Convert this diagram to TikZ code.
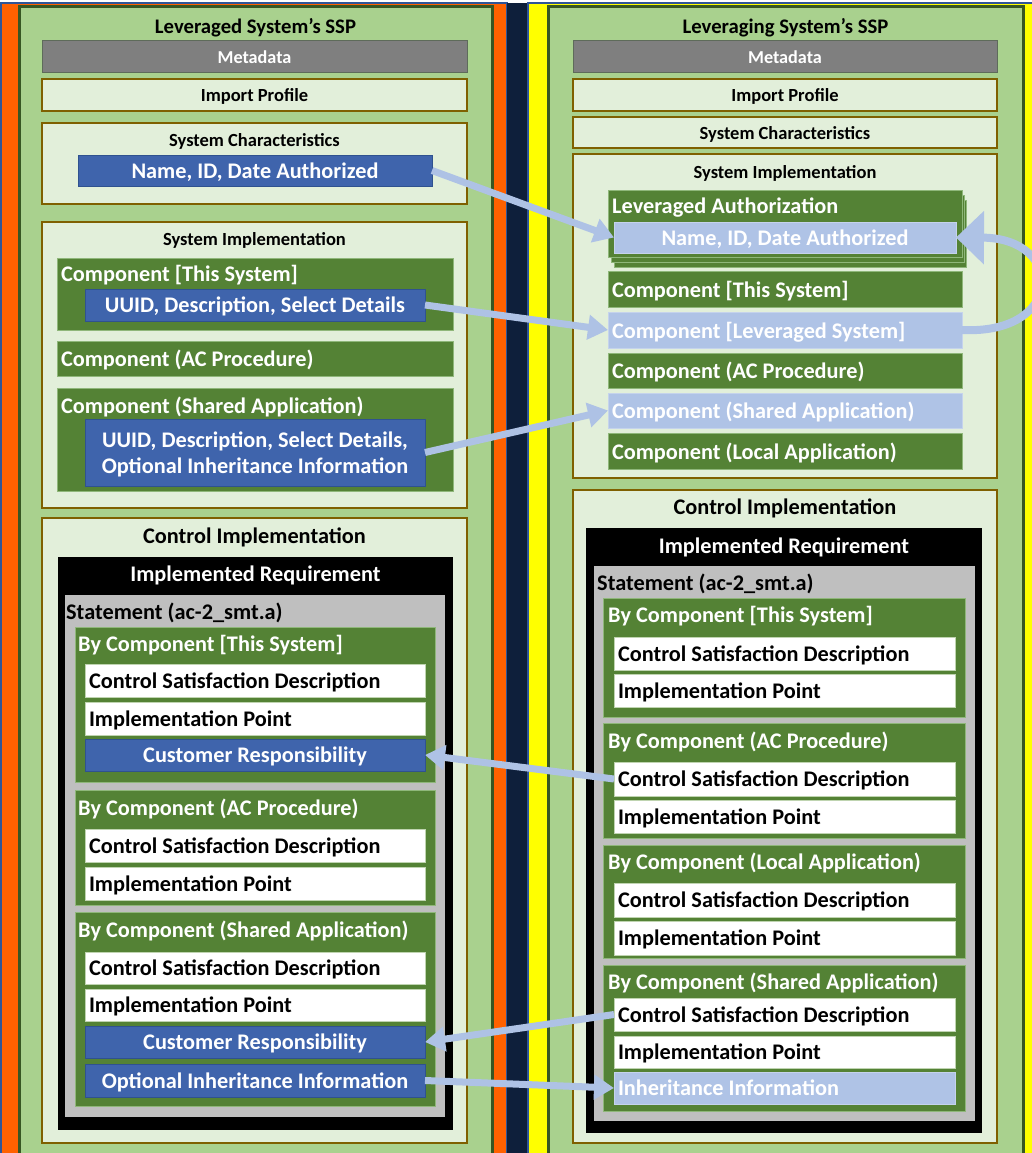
\documentclass[tikz,border=0pt]{standalone}
\usepackage{fontspec}
\setmainfont{Carlito}
\usetikzlibrary{arrows.meta}
\definecolor{orng}{HTML}{FF6100}
\definecolor{navy}{HTML}{0E1F3B}
\definecolor{yel}{HTML}{FFFF00}
\definecolor{edgeb}{HTML}{2F5597}
\definecolor{lgp}{HTML}{A9D18E}
\definecolor{dkgb}{HTML}{375623}
\definecolor{palg}{HTML}{E2EFDA}
\definecolor{brwn}{HTML}{7F6000}
\definecolor{metag}{HTML}{7F7F7F}
\definecolor{metab}{HTML}{5E6B5A}
\definecolor{dkg}{HTML}{548235}
\definecolor{grnb}{HTML}{8FB77A}
\definecolor{bluf}{HTML}{3F64AC}
\definecolor{blub}{HTML}{2F528F}
\definecolor{lbl}{HTML}{AFC3E6}
\definecolor{lblb}{HTML}{C5D3EC}
\definecolor{whb}{HTML}{BFD4B0}
\definecolor{gryf}{HTML}{BFBFBF}
\definecolor{arrc}{HTML}{AEC2E5}
\newcommand\myfs[1]{\fontsize{#1}{#1}\selectfont\bfseries}
\newcommand\cbox[7]{%
  \pgfmathsetmacro\bw{#5-#3}\pgfmathsetmacro\bh{#6-#4}%
  \node[#2, anchor=north west, inner sep=0pt, outer sep=0pt, minimum width=\bw pt, minimum height=\bh pt, align=flush center] (#1) at (#3,#4) {#7};}
\newcommand\lbox[7]{%
  \pgfmathsetmacro\bw{#5-#3-8}\pgfmathsetmacro\bh{#6-#4}%
  \node[#2, anchor=north west, inner ysep=0pt, inner xsep=4pt, outer sep=0pt, minimum height=\bh pt] (#1) at (#3,#4) {\hbox to \bw pt{#7\hfil}};}
\begin{document}
\begin{tikzpicture}[x=1pt,y=-1pt,
  sspt/.style={font=\myfs{20.7}, inner sep=0pt, text depth=0pt},
  smf/.style={font=\myfs{18.5}, text depth=0pt},
  bigf/.style={font=\myfs{22.3}, text depth=0pt},
  twof/.style={font=\fontsize{22.3}{26}\selectfont\bfseries, text depth=0pt},
  gt/.style={font=\myfs{22.3}, text=white, inner sep=0pt, anchor=west, text depth=0pt},
  st/.style={font=\myfs{22.3}, text=black, inner sep=0pt, anchor=west, text depth=0pt},
  lgpan/.style={fill=lgp, draw=dkgb, line width=3pt},
  meta/.style={fill=metag, draw=metab, line width=1pt, text=white, font=\myfs{18.2}, text depth=0pt},
  pale/.style={fill=palg, draw=brwn, line width=2.5pt},
  grn/.style={fill=dkg, draw=grnb, line width=0.8pt, text=white},
  blu/.style={fill=bluf, draw=blub, line width=0.8pt, text=white},
  lblu/.style={fill=lbl, draw=lblb, line width=0.8pt, text=white},
  wht/.style={fill=white, draw=whb, line width=0.8pt, text=black},
  blk/.style={fill=black},
  gry/.style={fill=gryf},
  arr/.style={draw=arrc, line width=7pt, -{Triangle[width=24pt,length=20pt]}},
  carr/.style={draw=arrc, line width=8pt, -{Triangle[width=52pt,length=28pt]}}
]
\useasboundingbox (0,0) rectangle (1032,1153);
\fill[white] (0,0) rectangle (1032,1153);
% background stripes
\fill[orng] (0,3) rectangle (507,1165);
\draw[edgeb, line width=1.2pt] (1,1165) -- (1,3) -- (507,3) -- (507,1165);
\fill[navy] (507,3) rectangle (528,1165);
\fill[yel] (528,3) rectangle (1040,1165);
\draw[edgeb, line width=1.2pt] (528,1165) -- (528,3) -- (1040,3);

% ================= LEFT =================
\cbox{lpan}{lgpan}{19}{7}{492}{1165}{}
\node[sspt] (lpan-t) at (255.5,26) {Leveraged System’s SSP};
\cbox{lmeta}{meta}{42}{41}{467}{73}{Metadata}
\cbox{limp}{pale,smf}{42}{79}{467}{111}{Import Profile}
\cbox{lsc}{pale}{42}{123}{467}{204}{}
\node[smf, inner sep=0pt] (lsc-t) at (254.5,140) {System Characteristics};
\cbox{lname}{blu,bigf}{78}{155}{432}{186}{Name, ID, Date Authorized}
\cbox{lsi}{pale}{42}{222}{467}{508}{}
\node[smf, inner sep=0pt] (lsi-t) at (254.5,239) {System Implementation};
\cbox{lcts}{grn}{57}{258}{453}{330}{}
\node[gt] (lcts-t) at (61,273) {Component [This System]};
\cbox{luuid}{blu,bigf}{85}{289}{425}{321}{UUID, Description, Select Details}
\lbox{lcac}{grn,bigf}{57}{341}{453}{376}{Component (AC Procedure)}
\cbox{lcsa}{grn}{57}{388}{453}{491}{}
\node[gt] (lcsa-t) at (61,405) {Component (Shared Application)};
\cbox{luuid2}{blu,twof}{85}{419}{425}{486}{UUID, Description, Select Details,\\Optional Inheritance Information}
\cbox{lci}{pale}{42}{518}{467}{1143}{}
\node[bigf, inner sep=0pt] (lci-t) at (254.5,536) {Control Implementation};
\cbox{lir}{blk}{58}{557}{453}{1130}{}
\node[bigf, text=white, inner sep=0pt] (lir-t) at (255.5,574) {Implemented Requirement};
\cbox{lst}{gry}{65}{595}{445}{1117}{}
\node[st] (lst-t) at (66,611) {Statement (ac-2\_smt.a)};
\cbox{lbc1}{grn}{75}{627}{435}{782}{}
\node[gt] (lbc1-t) at (78,643) {By Component [This System]};
\lbox{lcsd1}{wht,bigf}{85}{664}{425}{697}{Control Satisfaction Description}
\lbox{lip1}{wht,bigf}{85}{702}{425}{735}{Implementation Point}
\cbox{lcr1}{blu,bigf}{85}{739}{425}{771}{Customer Responsibility}
\cbox{lbc2}{grn}{75}{790}{435}{905}{}
\node[gt] (lbc2-t) at (78,807) {By Component (AC Procedure)};
\lbox{lcsd2}{wht,bigf}{85}{829}{425}{862}{Control Satisfaction Description}
\lbox{lip2}{wht,bigf}{85}{867}{425}{900}{Implementation Point}
\cbox{lbc3}{grn}{75}{912}{435}{1106}{}
\node[gt] (lbc3-t) at (78,929) {By Component (Shared Application)};
\lbox{lcsd3}{wht,bigf}{85}{952}{425}{984}{Control Satisfaction Description}
\lbox{lip3}{wht,bigf}{85}{989}{425}{1021}{Implementation Point}
\cbox{lcr3}{blu,bigf}{85}{1026}{425}{1058}{Customer Responsibility}
\cbox{loih}{blu,bigf}{85}{1064}{425}{1097}{Optional Inheritance Information}

% ================= RIGHT =================
\cbox{rpan}{lgpan}{548}{7}{1023}{1165}{}
\node[sspt] (rpan-t) at (785.5,26) {Leveraging System’s SSP};
\cbox{rmeta}{meta}{573}{41}{997}{73}{Metadata}
\cbox{rimp}{pale,smf}{573}{79}{997}{111}{Import Profile}
\cbox{rsc}{pale,smf}{573}{117}{997}{148}{System Characteristics}
\cbox{rsi}{pale}{573}{154}{997}{478}{}
\node[smf, inner sep=0pt] (rsi-t) at (785,172) {System Implementation};
\cbox{rla3}{grn}{614}{200}{966}{267}{}
\cbox{rla2}{grn}{611}{195}{964}{262}{}
\cbox{rla}{grn}{608}{190}{962}{257}{}
\node[gt] (rla-t) at (612,206) {Leveraged Authorization};
\cbox{rname}{lblu,bigf}{614}{222}{956}{253}{Name, ID, Date Authorized}
\lbox{rcts}{grn,bigf}{608}{271}{962}{307}{Component [This System]}
\lbox{rclev}{lblu,bigf}{608}{312}{962}{348}{Component [Leveraged System]}
\lbox{rcac}{grn,bigf}{608}{353}{962}{388}{Component (AC Procedure)}
\lbox{rcsa}{lblu,bigf}{608}{393}{962}{428}{Component (Shared Application)}
\lbox{rcla}{grn,bigf}{608}{433}{962}{469}{Component (Local Application)}
\cbox{rci}{pale}{573}{490}{997}{1143}{}
\node[bigf, inner sep=0pt] (rci-t) at (785,507) {Control Implementation};
\cbox{rir}{blk}{586}{528}{982}{1133}{}
\node[bigf, text=white, inner sep=0pt] (rir-t) at (784,546) {Implemented Requirement};
\cbox{rst}{gry}{594}{566}{975}{1121}{}
\node[st] (rst-t) at (597,582) {Statement (ac-2\_smt.a)};
\cbox{rbc1}{grn}{603}{598}{965}{717}{}
\node[gt] (rbc1-t) at (608,614) {By Component [This System]};
\lbox{rcsd1}{wht,bigf}{614}{637}{955}{670}{Control Satisfaction Description}
\lbox{rip1}{wht,bigf}{614}{674}{955}{707}{Implementation Point}
\cbox{rbc2}{grn}{603}{723}{965}{838}{}
\node[gt] (rbc2-t) at (608,740) {By Component (AC Procedure)};
\lbox{rcsd2}{wht,bigf}{614}{762}{955}{796}{Control Satisfaction Description}
\lbox{rip2}{wht,bigf}{614}{800}{955}{833}{Implementation Point}
\cbox{rbc3}{grn}{603}{845}{965}{958}{}
\node[gt] (rbc3-t) at (608,861) {By Component (Local Application)};
\lbox{rcsd3}{wht,bigf}{614}{883}{955}{917}{Control Satisfaction Description}
\lbox{rip3}{wht,bigf}{614}{921}{955}{955}{Implementation Point}
\cbox{rbc4}{grn}{603}{965}{965}{1111}{}
\node[gt] (rbc4-t) at (608,981) {By Component (Shared Application)};
\lbox{rcsd4}{wht,bigf}{614}{998}{955}{1031}{Control Satisfaction Description}
\lbox{rip4}{wht,bigf}{614}{1036}{955}{1068}{Implementation Point}
\lbox{rinh}{lblu,bigf}{614}{1072}{955}{1104}{Inheritance Information}

% ================= ARROWS =================
\draw[arr] (lname.east) -- (rname.west);
\draw[arr] (luuid.east) -- (rclev.west);
\draw[arr] (luuid2.east) -- (rcsa.west);
\draw[arr] (rcsd2.west) -- (lcr1.east);
\draw[arr] (rcsd4.west) -- (lcr3.east);
\draw[arr] (loih.east) -- (rinh.west);
\draw[carr] (rclev.east) .. controls (1065,335) and (1065,238) .. (rname.east);
\end{tikzpicture}
\end{document}
